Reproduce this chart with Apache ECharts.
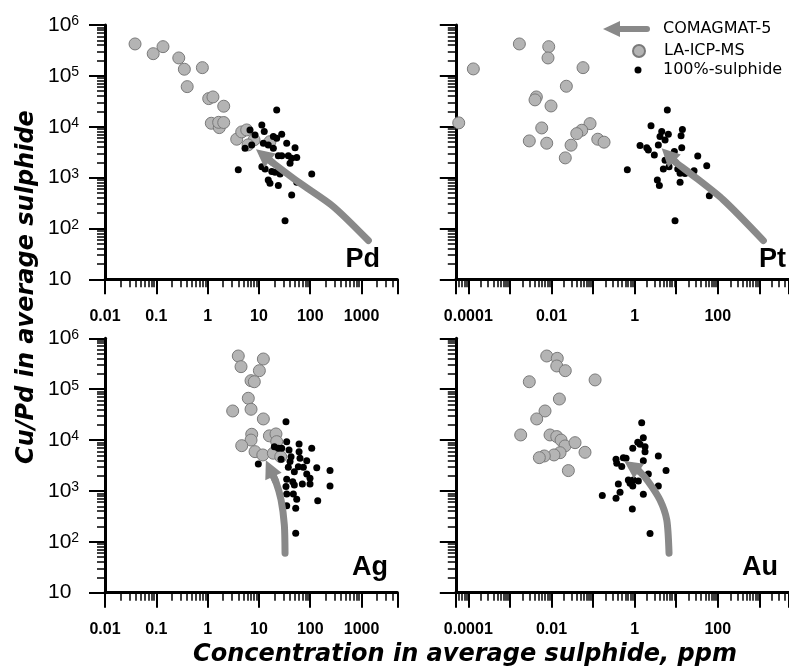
<!DOCTYPE html>
<html><head><meta charset="utf-8">
<script src="https://cdn.jsdelivr.net/npm/echarts@6/dist/echarts.min.js"></script>
<style>html,body{margin:0;padding:0;background:#fff}#c{width:789px;height:668px}</style>
</head><body><div id="c"></div>
<script>
// ---------- data ----------
const panelNames = ['Pd', 'Pt', 'Ag', 'Au'];
const seriesNames = ['COMAGMAT-5', 'LA-ICP-MS', '100%-sulphide'];
const xTitle = 'Concentration in average sulphide, ppm';
const yTitle = 'Cu/Pd in average sulphide';

const yTickValues = [10, 100, 1000, 10000, 100000, 1000000];
const yTickLabels = ['10', '10{s|2}', '10{s|3}', '10{s|4}', '10{s|5}', '10{s|6}'];
const xTickValuesA = [0.01, 0.1, 1, 10, 100, 1000];
const xTickLabelsA = ['0.01', '0.1', '1', '10', '100', '1000'];
const xTickValuesB = [0.0001, 0.01, 1, 100];
const xTickLabelsB = ['0.0001', '0.01', '1', '100'];

const pdLA = [[0.0385,424000],[0.087,273000],[0.135,375000],[0.274,225000],[0.352,135000],[0.79,145000],[0.40,61400],[1.05,35700],[1.27,38500],[2.06,25300],[1.18,11700],[1.69,9600],[1.64,12200],[2.06,12100],[3.69,5680],[4.62,7900],[5.78,8650],[8.04,5510],[6.14,4390],[16.4,5090]];
const pdSulph = [[22.2,21400],[6.70,8650],[11.4,10800],[12.7,8020],[5.36,3780],[7.24,4390],[19.1,6400],[22.2,5940],[27.8,7130],[15.2,4390],[34.8,4740],[50.6,3880],[23.9,2700],[27.8,2700],[37.4,2700],[54.6,2470],[40.4,1920],[3.96,1420],[11.4,1640],[13.2,1480],[17.8,1310],[20.6,1280],[25.8,1170],[15.2,900],[16.4,776],[23.9,697],[54.6,813],[107,1180],[43.5,457],[32.3,141],[43.5,2400],[19.1,3780],[12.2,4740],[8.4,6900]];
const pdModel = [[1360,57.8],[282,269],[63.2,776],[19.1,1920],[12.0,2790]];

const ptLA = [[0.00169,424000],[0.00859,375000],[0.00826,225000],[0.000132,137000],[0.0574,145000],[0.0228,62500],[0.00433,38500],[0.00402,33700],[0.00976,25600],[0.0000588,11900],[0.00583,9460],[0.0848,11500],[0.0535,8530],[0.0406,7320],[0.00293,5260],[0.00769,4740],[0.0296,4340],[0.130,5680],[0.184,4970],[0.0215,2440]];
const ptSulph = [[6.12,21400],[2.48,10500],[4.49,8020],[6.47,7130],[14.1,8770],[13.1,6680],[4.08,6400],[5.40,5510],[1.35,4260],[1.96,3880],[2.14,3500],[2.98,2790],[3.72,4390],[13.6,3880],[9.03,3240],[33.0,2670],[0.668,1420],[5.40,2200],[4.91,1480],[6.73,1640],[10.9,1480],[12.4,1220],[16.3,1200],[26.9,1360],[54.3,1700],[3.52,900],[3.94,697],[12.4,813],[62.7,437],[9.38,141],[7.94,2230]];
const ptModel = [[1250,57.8],[136,365],[21.5,1220],[10.3,1920],[6.37,2830]];

const agLA = [[3.96,449000],[12.2,392000],[4.48,277000],[10.2,231000],[7.02,147000],[8.13,140000],[6.21,66300],[3.08,37300],[7.02,40300],[12.2,26000],[7.24,13000],[7.02,10000],[4.62,7760],[8.40,5920],[11.9,5100],[16.0,12100],[21.5,13200],[22.2,9310],[19.1,5510],[26.6,4720]];
const agSulph = [[33.7,23000],[34.8,9310],[20.0,7410],[23.9,6900],[27.8,6900],[60.6,8380],[107,6900],[60.6,5920],[42.3,4720],[27.0,4200],[40.4,3770],[63.2,4390],[85.5,3940],[9.73,3390],[58.6,3000],[73.5,2920],[134,2870],[243,2510],[49.0,2390],[85.5,2160],[34.8,1700],[45.6,1520],[99.0,1780],[70.2,1370],[99.0,1370],[243,1250],[33.7,1220],[49.0,1310],[34.8,873],[46.9,873],[54.6,687],[34.8,514],[52.1,457],[140,644],[52.1,148],[37.4,2920],[38.6,6400]];
const agModel = [[32.3,59.7],[31.3,215],[27.0,665],[21.5,1500],[16.2,2780]];

const auLA = [[0.00769,449000],[0.0138,404000],[0.0134,286000],[0.0215,231000],[0.00293,140000],[0.112,152000],[0.0155,64100],[0.00700,37300],[0.00442,26000],[0.00182,12600],[0.00923,12600],[0.0134,11700],[0.0170,10000],[0.0212,7660],[0.0369,8890],[0.0641,5750],[0.0161,5650],[0.0115,5100],[0.00673,4870],[0.00511,4510],[0.0255,2510]];
const auSulph = [[1.48,22000],[1.62,11100],[1.19,9060],[1.35,8260],[0.902,6900],[1.78,7410],[1.78,5920],[3.72,4870],[0.357,4200],[0.536,4510],[0.622,4390],[0.372,3500],[0.490,3010],[1.62,3940],[5.70,2510],[2.14,2160],[0.706,1640],[0.776,1420],[0.902,1250],[0.406,1370],[1.23,1570],[3.72,1250],[0.167,809],[0.357,719],[0.446,944],[1.62,861],[0.881,443],[2.35,145],[0.931,1640]];
const auModel = [[6.73,59.7],[5.93,269],[4.08,665],[2.14,1520],[1.35,2360],[0.847,3080]];

const xMinA = 0.01, xMinB = 0.00005, xMax = 5000, yMin = 10, yMax = 1000000;

// ---------- build ----------
const LA = [pdLA, ptLA, agLA, auLA];
const SU = [pdSulph, ptSulph, agSulph, auSulph];
const MO = [pdModel, ptModel, agModel, auModel];

const grids = [
  {left: 105, top: 25, width: 292.4, height: 254.3},
  {left: 455.8, top: 25, width: 332.6, height: 254.3},
  {left: 105, top: 338.3, width: 292.4, height: 254.4},
  {left: 455.8, top: 338.3, width: 332.6, height: 254.4}
].map(g => Object.assign(g, {outerBoundsMode: 'none', containLabel: false}));

function lookup(vals, labels, v) {
  const i = vals.findIndex(t => Math.abs(t - v) / t < 1e-6);
  return i < 0 ? '' : labels[i];
}

const GREY = '#898989';
const lineAx = {show: true, onZero: false, lineStyle: {color: '#000', width: 3}};
const tickAx = {show: true, length: 15, lineStyle: {color: '#000', width: 2}};
const minorAx = {show: true, splitNumber: 9, length: 8, lineStyle: {color: '#000', width: 1.5}};

const xAxes = [0, 1, 2, 3].map(i => {
  const b = i % 2 === 1;
  return {
    type: 'log', logBase: 10, gridIndex: i, min: b ? xMinB : xMinA, max: xMax,
    axisLine: lineAx, axisTick: tickAx, minorTick: minorAx,
    splitLine: {show: false},
    axisLabel: {
      show: true, margin: 29, color: '#000', fontSize: 16, fontWeight: 'bold',
      fontFamily: 'Liberation Sans', showMinLabel: true, showMaxLabel: true,
      formatter: v => b ? lookup(xTickValuesB, xTickLabelsB, v) : lookup(xTickValuesA, xTickLabelsA, v)
    }
  };
});
const yAxes = [0, 1, 2, 3].map(i => ({
  type: 'log', logBase: 10, gridIndex: i, min: yMin, max: yMax,
  axisLine: lineAx, axisTick: Object.assign({}, tickAx, {length: 16}), minorTick: minorAx,
  splitLine: {show: false},
  axisLabel: {
    show: i % 2 === 0, margin: 57, align: 'left', color: '#000', fontSize: 21,
    fontFamily: 'Liberation Sans',
    formatter: v => lookup(yTickValues, yTickLabels, v),
    rich: {s: {fontSize: 14, fontFamily: 'Liberation Sans', color: '#000', verticalAlign: 'top', lineHeight: 14}}
  }
}));

const series = [];
for (let i = 0; i < 4; i++) {
  series.push({
    type: 'scatter', name: seriesNames[1], xAxisIndex: i, yAxisIndex: i, data: LA[i],
    symbol: 'circle', symbolSize: 12, z: 2, silent: true,
    itemStyle: {color: '#b4b4b4', borderColor: '#7a7a7a', borderWidth: 1, opacity: 1}
  });
  series.push({
    type: 'scatter', name: seriesNames[2], xAxisIndex: i, yAxisIndex: i, data: SU[i],
    symbol: 'circle', symbolSize: 7, z: 3, silent: true,
    itemStyle: {color: '#000', opacity: 1}
  });
  const m = MO[i];
  series.push({
    type: 'line', name: seriesNames[0], xAxisIndex: i, yAxisIndex: i, data: m,
    smooth: 0.25, showSymbol: false, symbol: 'none', z: 4, silent: true, color: GREY,
    itemStyle: {color: GREY},
    lineStyle: {color: GREY, width: 7, cap: 'round'},
    markLine: {
      silent: true, animation: false, symbol: ['none', 'triangle'], symbolSize: [18, 18],
      label: {show: false},
      lineStyle: {color: GREY, width: 7, type: 'solid', opacity: 1},
      itemStyle: {color: GREY},
      emphasis: {disabled: true},
      data: [[{coord: m[m.length - 2]}, {coord: m[m.length - 1]}]]
    }
  });
}

const legendText = {fontSize: 16, fontFamily: 'DejaVu Sans', color: '#000'};
const legends = [
  {data: [{name: seriesNames[0], icon: 'path://M0,8 L17,0 L17,5 L44,5 A3,3 0 0 1 44,11 L17,11 L17,16 Z'}],
   left: 603, top: 21, itemWidth: 47, itemHeight: 16, textStyle: Object.assign({padding: [0, 0, 0, 8]}, legendText)},
  {data: [{name: seriesNames[1], icon: 'circle'}],
   left: 632, top: 43, itemWidth: 12, itemHeight: 12, textStyle: Object.assign({padding: [0, 0, 0, 14]}, legendText)},
  {data: [{name: seriesNames[2], icon: 'circle'}],
   left: 634.5, top: 62, itemWidth: 7, itemHeight: 7, textStyle: Object.assign({padding: [0, 0, 0, 16.5]}, legendText)}
].map(l => Object.assign(l, {padding: 0, selectedMode: false, orient: 'horizontal'}));

const panelPos = [[380, 260], [786, 260], [388, 568], [778, 568]];
const graphics = panelNames.map((n, i) => ({
  type: 'text', x: panelPos[i][0], y: panelPos[i][1], silent: true,
  style: {text: n, font: 'bold 27px "Liberation Sans"', fill: '#000',
          align: 'right', verticalAlign: 'middle', textAlign: 'right', textVerticalAlign: 'middle'}
}));
graphics.push({
  type: 'text', x: 27, y: 287, rotation: Math.PI / 2, silent: true,
  style: {text: yTitle, font: 'italic bold 24px "DejaVu Sans"', fill: '#000',
          align: 'center', verticalAlign: 'middle', textAlign: 'center', textVerticalAlign: 'middle'}
});
graphics.push({
  type: 'text', x: 465, y: 655, silent: true,
  style: {text: xTitle, font: 'italic bold 24px "DejaVu Sans"', fill: '#000',
          align: 'center', verticalAlign: 'middle', textAlign: 'center', textVerticalAlign: 'middle'}
});

const chart = echarts.init(document.getElementById('c'), null, {renderer: 'canvas'});
chart.setOption({
  animation: false,
  backgroundColor: '#fff',
  grid: grids,
  xAxis: xAxes,
  yAxis: yAxes,
  legend: legends,
  series: series,
  graphic: graphics
});
</script></body></html>
